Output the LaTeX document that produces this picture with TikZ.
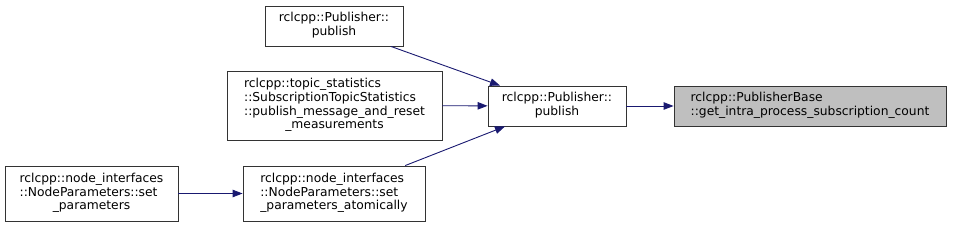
\documentclass[tikz,border=0pt]{standalone}
\usepackage{fontspec}
\setmainfont{DejaVu Sans}
\usetikzlibrary{arrows.meta}
\definecolor{edgecol}{HTML}{191970}
\definecolor{hilite}{HTML}{BFBFBF}
\begin{document}
\begin{tikzpicture}[x=1pt,y=-1pt,
  box/.style={draw=black!80,line width=0.9pt,fill=white,inner sep=0pt,font=\fontsize{12.3}{13.6}\selectfont},
  edge/.style={draw=edgecol,line width=0.9pt,-{Triangle[length=10pt,width=7.5pt]}}]
\useasboundingbox (0,0) rectangle (955,227);
\newcommand{\ltxt}[2]{\begin{tabular}{@{}l@{}}#1\\\multicolumn{1}{@{}c@{}}{#2}\end{tabular}}
\node[box,fill=hilite,minimum width=272pt,minimum height=40pt] (A) at (810,106)
  {\ltxt{rclcpp::PublisherBase}{::get\_intra\_process\_subscription\_count}};
\node[box,minimum width=138pt,minimum height=40pt] (B) at (557,106)
  {\begin{tabular}{@{}c@{}}rclcpp::Publisher::\\publish\end{tabular}};
\node[box,minimum width=138pt,minimum height=40pt] (C) at (334,26)
  {\begin{tabular}{@{}c@{}}rclcpp::Publisher::\\publish\end{tabular}};
\node[box,minimum width=215pt,minimum height=69pt] (D) at (334.5,105.5)
  {\ltxt{rclcpp::topic\_statistics\\::SubscriptionTopicStatistics\\::publish\_message\_and\_reset}{\_measurements}};
\node[box,minimum width=182pt,minimum height=55pt] (E) at (334,193.5)
  {\ltxt{rclcpp::node\_interfaces\\::NodeParameters::set}{\_parameters\_atomically}};
\node[box,minimum width=173pt,minimum height=55pt] (F) at (91.5,193.5)
  {\ltxt{rclcpp::node\_interfaces\\::NodeParameters::set}{\_parameters}};
\draw[edge] (B) -- (A);
\draw[edge] (C) -- (B);
\draw[edge] (D) -- (B);
\draw[edge] (E) -- (B);
\draw[edge] (F) -- (E);
\end{tikzpicture}
\end{document}
